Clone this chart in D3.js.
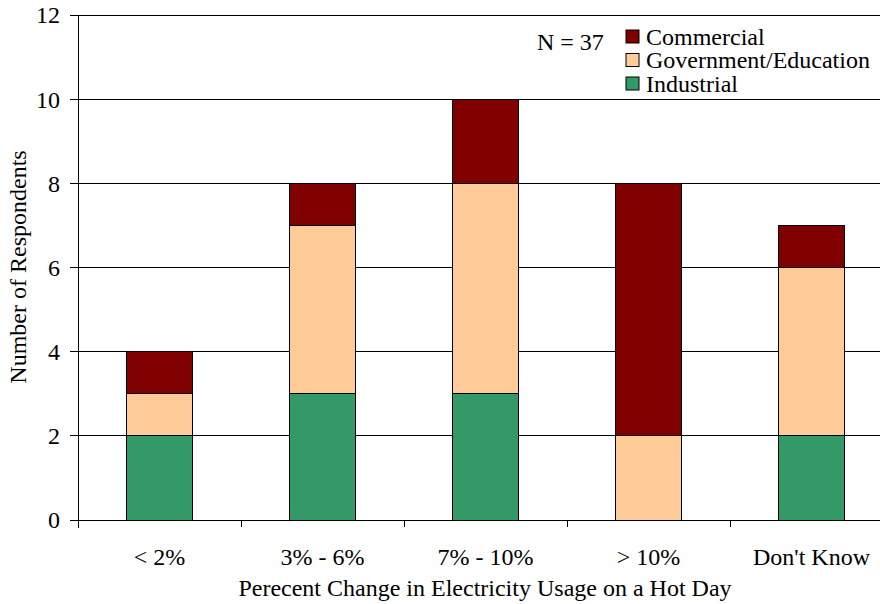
<!DOCTYPE html>
<html><head><meta charset="utf-8">
<script src="https://cdn.jsdelivr.net/npm/d3@7"></script>
<style>body{margin:0;background:#fff}svg{display:block}</style>
</head><body>
<svg id="c" width="880" height="604"></svg>
<script>
const categories = ["< 2%", "3% - 6%", "7% - 10%", "> 10%", "Don't Know"];
const industrial = [2, 3, 3, 0, 2];
const government = [1, 4, 5, 2, 4];
const commercial = [1, 1, 2, 6, 1];
const seriesNames = ["Industrial", "Government/Education", "Commercial"];
const seriesColors = ["#339966", "#FFCC99", "#800000"];
const yTicks = [0, 2, 4, 6, 8, 10, 12];

(function () {
const svg = d3.select("#c");
const font = "'Liberation Serif', 'Times New Roman', serif";
const fs = 24;
const pLeft = 78, pTop = 15, pBottom = 520, pRight = 78 + 163 * 5;

const x = d3.scaleBand().domain(categories).range([pLeft, pRight]).paddingInner(0.595).paddingOuter(0.2975);
const y = d3.scaleLinear().domain([0, 12]).range([pBottom, pTop]);

// gridlines
svg.append("g").selectAll("line").data(yTicks).join("line")
  .attr("x1", pLeft - 8).attr("x2", 880).attr("y1", d => y(d)).attr("y2", d => y(d))
  .attr("stroke", "#000").attr("stroke-width", 1).attr("shape-rendering", "crispEdges");

const rows = categories.map((c, i) => ({cat: c, Industrial: industrial[i], "Government/Education": government[i], Commercial: commercial[i]}));
const stacked = d3.stack().keys(seriesNames)(rows);

svg.append("g").selectAll("g").data(stacked).join("g")
  .attr("fill", (d, i) => seriesColors[i])
  .selectAll("rect").data(d => d.filter(p => p[1] > p[0])).join("rect")
  .attr("x", d => x(d.data.cat)).attr("width", x.bandwidth())
  .attr("y", d => y(d[1])).attr("height", d => y(d[0]) - y(d[1]))
  .attr("stroke", "#000").attr("stroke-width", 1).attr("shape-rendering", "crispEdges");

// axes lines
svg.append("line").attr("x1", pLeft).attr("x2", pLeft).attr("y1", pTop).attr("y2", pBottom + 8)
  .attr("stroke", "#000").attr("shape-rendering", "crispEdges");
svg.append("line").attr("x1", pLeft).attr("x2", 880).attr("y1", pBottom).attr("y2", pBottom)
  .attr("stroke", "#000").attr("shape-rendering", "crispEdges");
// x tick marks at band boundaries
const bounds = d3.range(categories.length + 1).map(i => pLeft + x.step() * i);
svg.append("g").selectAll("line").data(bounds).join("line")
  .attr("x1", d => d).attr("x2", d => d).attr("y1", pBottom).attr("y2", pBottom + 7)
  .attr("stroke", "#000").attr("shape-rendering", "crispEdges");

// y labels
svg.append("g").selectAll("text").data(yTicks).join("text")
  .attr("x", 60).attr("y", d => y(d)).attr("dy", "0.35em").attr("text-anchor", "end")
  .attr("font-family", font).attr("font-size", fs).text(d => d);

// x labels
svg.append("g").selectAll("text").data(categories).join("text")
  .attr("x", d => x(d) + x.bandwidth() / 2).attr("y", 565).attr("text-anchor", "middle")
  .attr("font-family", font).attr("font-size", fs).text(d => d);

svg.append("text").attr("x", 485).attr("y", 596).attr("text-anchor", "middle")
  .attr("font-family", font).attr("font-size", fs).text("Perecent Change in Electricity Usage on a Hot Day");

svg.append("text").attr("transform", "translate(26,267) rotate(-90)").attr("text-anchor", "middle")
  .attr("font-family", font).attr("font-size", fs).text("Number of Respondents");

svg.append("text").attr("x", 537).attr("y", 50).attr("font-family", font).attr("font-size", fs).text("N = 37");

// legend
const legendOrder = [2, 1, 0];
const lg = svg.append("g");
legendOrder.forEach((si, k) => {
  const yy = 30 + k * 23.5;
  lg.append("rect").attr("x", 626).attr("y", yy).attr("width", 13).attr("height", 13)
    .attr("fill", seriesColors[si]).attr("stroke", "#000").attr("stroke-width", 1);
  lg.append("text").attr("x", 646).attr("y", yy + 14.5).attr("font-family", font).attr("font-size", fs).text(seriesNames[si]);
});
})();
</script>
</body></html>
